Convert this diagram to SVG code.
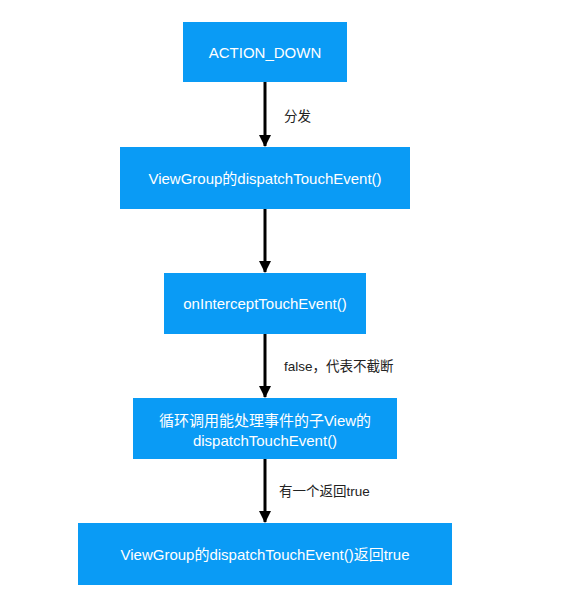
<svg xmlns="http://www.w3.org/2000/svg" width="566" height="609" viewBox="0 0 566 609">
<defs>
<style>
.box{fill:#0A9BF5;}
.t{fill:#ffffff;font-family:"Liberation Sans","Noto Sans CJK SC",sans-serif;font-size:15px;text-anchor:middle;dominant-baseline:central;}
.lbl{fill:#222;font-family:"Liberation Sans","Noto Sans CJK SC",sans-serif;font-size:13.5px;dominant-baseline:central;}
.edge{stroke:#000;stroke-width:3;fill:none;}
</style>
<marker id="ah" markerWidth="12" markerHeight="12" viewBox="0 0 12 12" refX="11" refY="6" orient="auto" markerUnits="userSpaceOnUse">
<path d="M0,0 L12,6 L0,12 Z" fill="#000"/>
</marker>
</defs>
<rect width="566" height="609" fill="#ffffff"/>
<g id="connectors">
<line class="edge" x1="265" y1="82" x2="265" y2="146" marker-end="url(#ah)"/>
<line class="edge" x1="265" y1="209" x2="265" y2="272" marker-end="url(#ah)"/>
<line class="edge" x1="265" y1="334" x2="265" y2="397" marker-end="url(#ah)"/>
<line class="edge" x1="265" y1="459" x2="265" y2="522" marker-end="url(#ah)"/>
<text class="lbl" x="284" y="116">分发</text>
<text class="lbl" x="284" y="366">false，代表不截断</text>
<text class="lbl" x="279" y="491">有一个返回true</text>
</g>
<g id="n1">
<rect class="box" x="183" y="22" width="164" height="60"/>
<text class="t" x="265" y="52">ACTION_DOWN</text>
</g>
<g id="n2">
<rect class="box" x="120" y="147" width="290" height="62"/>
<text class="t" x="265" y="178">ViewGroup的dispatchTouchEvent()</text>
</g>
<g id="n3">
<rect class="box" x="164" y="273" width="202" height="61"/>
<text class="t" x="265" y="303.5">onInterceptTouchEvent()</text>
</g>
<g id="n4">
<rect class="box" x="133" y="398" width="264" height="61"/>
<text class="t" x="265" y="420">循环调用能处理事件的子View的</text>
<text class="t" x="265" y="440">dispatchTouchEvent()</text>
</g>
<g id="n5">
<rect class="box" x="78" y="523" width="374" height="62"/>
<text class="t" x="265" y="554">ViewGroup的dispatchTouchEvent()返回true</text>
</g>
</svg>
